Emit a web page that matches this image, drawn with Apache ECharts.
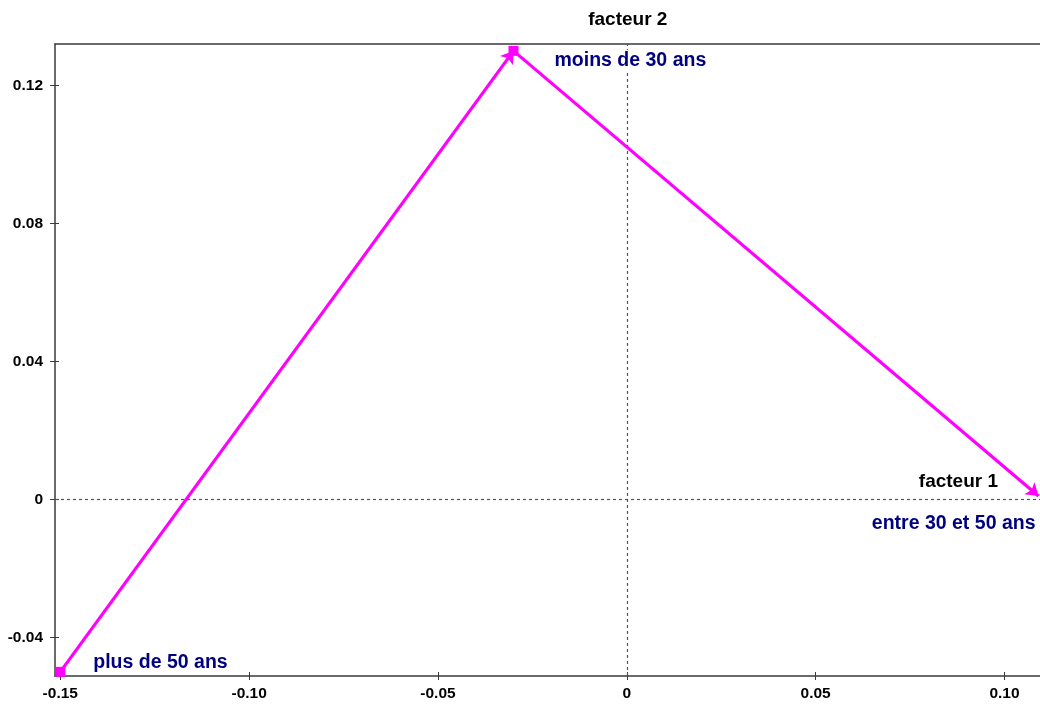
<!DOCTYPE html>
<html>
<head>
<meta charset="utf-8">
<script src="https://cdn.jsdelivr.net/npm/echarts@6/dist/echarts.min.js"></script>
<style>html,body{margin:0;padding:0;background:#fff;}#main{width:1040px;height:704px;}</style>
</head>
<body>
<div id="main"></div>
<script>
// ---- data ----
var categories = ['plus de 50 ans', 'moins de 30 ans', 'entre 30 et 50 ans'];
var facteur1 = [-0.150, -0.030, 0.109];
var facteur2 = [-0.050, 0.130, 0.001];
var xTickValues = [-0.15, -0.10, -0.05, 0, 0.05, 0.10];
var xTickLabels = ['-0.15', '-0.10', '-0.05', '0', '0.05', '0.10'];
var yTickValues = [-0.04, 0, 0.04, 0.08, 0.12];
var yTickLabels = ['-0.04', '0', '0.04', '0.08', '0.12'];
var xAxisName = 'facteur 1';
var yAxisName = 'facteur 2';

// ---- ranges ----
var xMin = -0.1514, xMax = 0.1094;
var yMin = -0.0512, yMax = 0.1320;

var FONT = "'Liberation Sans', Arial, sans-serif";
var AXIS_COLOR = '#3a3a3a';
var LINE_COLOR = '#ff00ff';
var LABEL_COLOR = '#000080';

function pick(vals, labels) {
  return function (v) {
    for (var i = 0; i < vals.length; i++) if (Math.abs(vals[i] - v) < 1e-9) return labels[i];
    return '';
  };
}

// label placement (style, not data)
var labelStyles = [
  { align: 'left', offset: [31, -9] },
  { align: 'left', offset: [39, 10] },
  { align: 'right', offset: [-1, 28] }
];

var segments = [];
var segmentStarts = [];
for (var i = 0; i < facteur1.length - 1; i++) {
  segments.push({ coords: [[facteur1[i], facteur2[i]], [facteur1[i + 1], facteur2[i + 1]]] });
  segmentStarts.push([facteur1[i], facteur2[i]]);
}

var chart = echarts.init(document.getElementById('main'), null, { renderer: 'canvas' });

var baseX = { type: 'value', min: xMin, max: xMax, splitLine: { show: false }, gridIndex: 0 };
var baseY = { type: 'value', min: yMin, max: yMax, splitLine: { show: false }, gridIndex: 0 };

var option = {
  backgroundColor: '#ffffff',
  animation: false,
  grid: { left: 55, top: 44, right: 0, bottom: 28, containLabel: false, outerBoundsMode: 'none' },
  xAxis: [
    Object.assign({}, baseX, {
      position: 'bottom',
      axisLine: { show: true, onZero: false, lineStyle: { color: AXIS_COLOR, width: 1.5 } },
      axisTick: { show: true, inside: false, length: 4, customValues: xTickValues, lineStyle: { color: AXIS_COLOR, width: 1 } },
      axisLabel: { show: true, customValues: xTickValues, formatter: pick(xTickValues, xTickLabels), margin: 10,
        color: '#000', fontWeight: 'bold', fontSize: 15.5, fontFamily: FONT }
    }),
    Object.assign({}, baseX, {
      position: 'top',
      axisLine: { show: true, onZero: false, lineStyle: { color: AXIS_COLOR, width: 1.5 } },
      axisTick: { show: false }, axisLabel: { show: false }
    }),
    Object.assign({}, baseX, {
      position: 'bottom',
      axisLine: { show: false, onZero: false },
      axisTick: { show: true, inside: true, length: 4, customValues: xTickValues, lineStyle: { color: AXIS_COLOR, width: 1 } },
      axisLabel: { show: false }
    })
  ],
  yAxis: [
    Object.assign({}, baseY, {
      position: 'left',
      axisLine: { show: true, onZero: false, lineStyle: { color: AXIS_COLOR, width: 1.5 } },
      axisTick: { show: true, inside: false, length: 5, customValues: yTickValues, lineStyle: { color: AXIS_COLOR, width: 1 } },
      axisLabel: { show: true, customValues: yTickValues, formatter: pick(yTickValues, yTickLabels), margin: 12,
        color: '#000', fontWeight: 'bold', fontSize: 15.5, fontFamily: FONT }
    }),
    Object.assign({}, baseY, {
      position: 'left',
      axisLine: { show: false, onZero: false },
      axisTick: { show: true, inside: true, length: 4, customValues: yTickValues, lineStyle: { color: AXIS_COLOR, width: 1 } },
      axisLabel: { show: false }
    })
  ],
  series: [
    {
      type: 'scatter',
      xAxisIndex: 0, yAxisIndex: 0,
      symbolSize: 0,
      silent: true,
      data: [],
      markLine: {
        silent: true,
        symbol: 'none',
        label: { show: false },
        lineStyle: { color: '#555', width: 1.2, type: [3, 3] },
        data: [{ xAxis: 0 }, { yAxis: 0 }]
      },
      z: -1
    },
    {
      type: 'lines',
      coordinateSystem: 'cartesian2d',
      xAxisIndex: 0, yAxisIndex: 0,
      symbol: ['none', 'arrow'],
      symbolSize: [10, 12],
      lineStyle: { color: LINE_COLOR, width: 3.2, opacity: 1, curveness: 0 },
      data: segments,
      z: 5
    },
    {
      type: 'scatter',
      xAxisIndex: 0, yAxisIndex: 0,
      symbol: 'rect',
      symbolSize: 10,
      silent: true,
      itemStyle: { color: LINE_COLOR, opacity: 1 },
      data: segmentStarts,
      z: 6
    }
  ]
};
chart.setOption(option);

// texts placed using the axis scales
var graphics = [];
categories.forEach(function (c, i) {
  var p = chart.convertToPixel({ xAxisIndex: 0, yAxisIndex: 0 }, [facteur1[i], facteur2[i]]);
  graphics.push({
    type: 'text', z: 100, zlevel: 1,
    x: p[0] + labelStyles[i].offset[0], y: p[1] + labelStyles[i].offset[1],
    style: {
      text: c, fill: LABEL_COLOR, font: 'bold 19.5px ' + FONT,
      textAlign: labelStyles[i].align, textVerticalAlign: 'middle',
      backgroundColor: '#ffffff', padding: [1, 2]
    }
  });
});
var pTop = chart.convertToPixel({ xAxisIndex: 0, yAxisIndex: 0 }, [0, yMax]);
var pRight = chart.convertToPixel({ xAxisIndex: 0, yAxisIndex: 0 }, [xMax, 0]);
graphics.push(
  { type: 'text', x: pTop[0] + 1, y: pTop[1] - 24,
    style: { text: yAxisName, fill: '#000', font: 'bold 19px ' + FONT, textAlign: 'center', textVerticalAlign: 'middle' } },
  { type: 'text', x: pRight[0] - 42, y: pRight[1] - 18,
    style: { text: xAxisName, fill: '#000', font: 'bold 19px ' + FONT, textAlign: 'right', textVerticalAlign: 'middle' } }
);
chart.setOption({ graphic: graphics });
</script>
</body>
</html>
